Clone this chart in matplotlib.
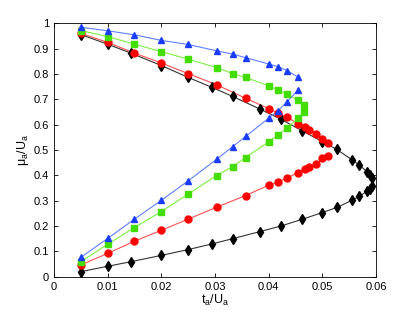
import numpy as np
import matplotlib
matplotlib.use("Agg")
import matplotlib.pyplot as plt

plt.rcParams['font.family'] = ['Liberation Sans', 'DejaVu Sans']
plt.rcParams['mathtext.default'] = 'regular'
plt.rcParams['font.size'] = 8

# blue triangles
x_blue = [0.005, 0.01, 0.015, 0.02, 0.025, 0.0303, 0.0333, 0.0357, 0.04, 0.0417, 0.0435, 0.0455]
y_blue_up = [0.984, 0.970, 0.954, 0.932, 0.916, 0.891, 0.878, 0.864, 0.839, 0.829, 0.812, 0.787]
y_blue_lo = [0.076, 0.151, 0.227, 0.301, 0.378, 0.463, 0.513, 0.553, 0.625, 0.654, 0.691, 0.737]

# green squares
x_green_up = [0.005, 0.01, 0.015, 0.02, 0.025, 0.0303, 0.0333, 0.0357, 0.04, 0.0417, 0.0435, 0.0455, 0.0465]
y_green_up = [0.971, 0.947, 0.917, 0.888, 0.858, 0.825, 0.801, 0.786, 0.753, 0.737, 0.720, 0.695, 0.676]
x_green_lo = [0.005, 0.01, 0.015, 0.02, 0.025, 0.0303, 0.0333, 0.0357, 0.04, 0.0417, 0.0435, 0.0455, 0.0465]
y_green_lo = [0.059, 0.128, 0.194, 0.257, 0.326, 0.399, 0.434, 0.470, 0.532, 0.558, 0.588, 0.625, 0.649]

# red circles
x_red = [0.005, 0.01, 0.015, 0.02, 0.025, 0.0303, 0.0357, 0.04, 0.0417, 0.0435, 0.0455, 0.0467, 0.0476, 0.0488, 0.050, 0.051]
y_red_up = [0.960, 0.924, 0.882, 0.843, 0.801, 0.757, 0.704, 0.663, 0.645, 0.628, 0.603, 0.589, 0.580, 0.564, 0.545, 0.526]
y_red_lo = [0.046, 0.092, 0.140, 0.183, 0.227, 0.274, 0.320, 0.361, 0.372, 0.391, 0.410, 0.424, 0.432, 0.443, 0.467, 0.476]

# black diamonds
x_black = [0.005, 0.01, 0.0143, 0.02, 0.025, 0.0294, 0.0333, 0.0384, 0.0423, 0.0462, 0.050, 0.0527, 0.0556, 0.0569, 0.0584, 0.0588, 0.0592]
y_black_up = [0.955, 0.917, 0.882, 0.833, 0.786, 0.747, 0.711, 0.661, 0.621, 0.576, 0.533, 0.502, 0.460, 0.440, 0.413, 0.403, 0.391]
y_black_lo = [0.020, 0.041, 0.059, 0.084, 0.107, 0.129, 0.150, 0.178, 0.200, 0.226, 0.253, 0.273, 0.302, 0.317, 0.338, 0.347, 0.356]

fig = plt.figure(figsize=(4.15, 3.13), dpi=100)
ax = fig.add_axes([0.13, 0.116, 0.776, 0.81])

def branch(x, y, line_c, mark_c, marker, ms):
    ax.plot(x, y, '-', color=line_c, lw=0.8, zorder=2)
    ax.plot(x, y, linestyle='none', marker=marker, ms=ms, color=mark_c, mec=mark_c, zorder=3)

branch(x_black, y_black_up, '#333333', 'black', 'd', 5)
branch(x_black, y_black_lo, '#333333', 'black', 'd', 5)
branch(x_red, y_red_up, '#ff5050', '#ff0000', 'o', 5)
branch(x_red, y_red_lo, '#ff5050', '#ff0000', 'o', 5)
branch(x_green_up, y_green_up, '#80ee40', '#44dd00', 's', 4.2)
branch(x_green_lo, y_green_lo, '#80ee40', '#44dd00', 's', 4.2)
branch(x_blue, y_blue_up, '#6080ff', '#1a3cff', '^', 5)
branch(x_blue, y_blue_lo, '#6080ff', '#1a3cff', '^', 5)

ax.set_xlim(0, 0.06)
ax.set_ylim(0, 1)
ax.set_xticks([0, 0.01, 0.02, 0.03, 0.04, 0.05, 0.06])
ax.set_xticklabels(['0', '0.01', '0.02', '0.03', '0.04', '0.05', '0.06'])
ax.set_yticks(np.arange(0, 1.01, 0.1))
ax.set_yticklabels(['0', '0.1', '0.2', '0.3', '0.4', '0.5', '0.6', '0.7', '0.8', '0.9', '1'])
ax.tick_params(direction='in', top=True, right=True, length=3, width=0.6, labelsize=8)
for s in ax.spines.values():
    s.set_linewidth(0.6)

ax.set_xlabel('t$_a$/U$_a$', fontsize=9, labelpad=1)
ax.set_ylabel('μ$_a$/U$_a$', fontsize=9, labelpad=2)

fig.savefig('out.png', dpi=100)
